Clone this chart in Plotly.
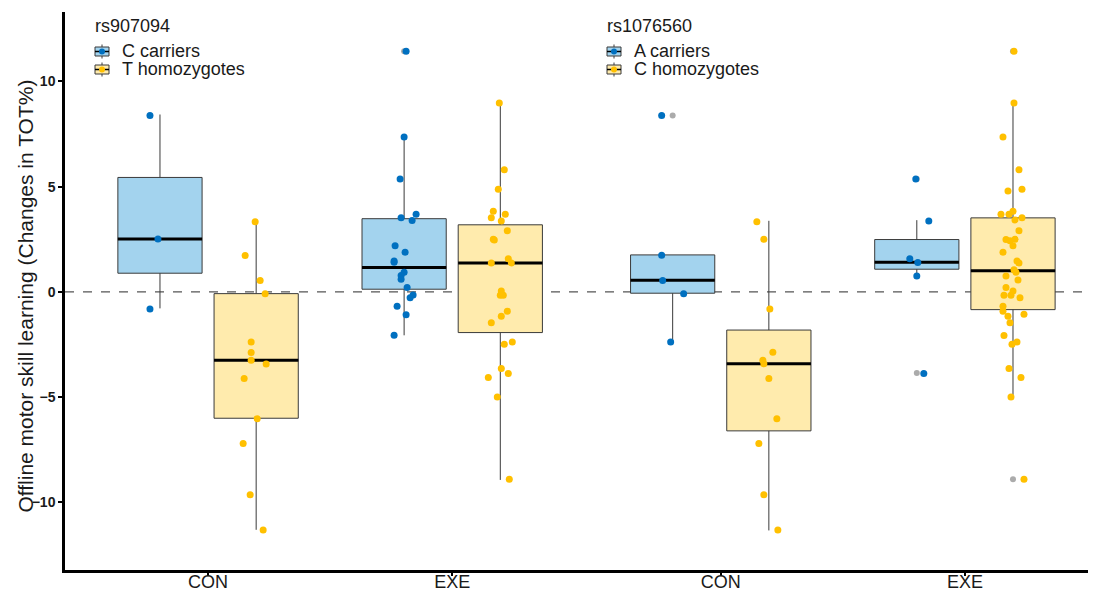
import plotly.graph_objects as go

# ---------------- data ----------------
categories = ["CON", "EXE", "CON", "EXE"]
snp_names = ["rs907094", "rs1076560"]
genotype_labels = [["C carriers", "T homozygotes"], ["A carriers", "C homozygotes"]]
y_title = "Offline motor skill learning (Changes in TOT%)"
y_ticks = [-10, -5, 0, 5, 10]

# group order: (category index, genotype index 0=carrier/blue, 1=homozygote/yellow)
group_cat = [0, 0, 1, 1, 2, 2, 3, 3]
group_geno = [0, 1, 0, 1, 0, 1, 0, 1]

box_lower = [-0.78, -11.30, -2.06, -8.93, -2.41, -11.33, 0.80, -4.89]
box_q1 = [0.89, -6.00, 0.13, -1.93, -0.06, -6.60, 1.08, -0.84]
box_median = [2.52, -3.25, 1.16, 1.38, 0.56, -3.41, 1.41, 1.01]
box_q3 = [5.44, -0.08, 3.48, 3.19, 1.76, -1.81, 2.49, 3.52]
box_upper = [8.43, 3.35, 7.35, 9.00, 1.76, 3.38, 3.41, 8.88]

outliers_con1_c = []
outliers_con1_t = []
outliers_exe1_c = [11.43]
outliers_exe1_t = []
outliers_con2_a = [8.38]
outliers_con2_c = []
outliers_exe2_a = [5.37, -3.85]
outliers_exe2_c = [11.43, -8.90]

vals_con1_c = [8.38, 2.51, -0.81]
vals_con1_t = [3.34, 1.73, 0.54, -0.08, -2.38, -2.88, -3.25, -3.42, -4.11, -6.02, -7.20, -9.63, -11.31]
vals_exe1_c = [11.43, 7.36, 5.37, 3.53, 3.69, 3.40, 2.19, 1.89, 1.47, 1.41, 0.94, 0.78, 0.60, 0.21,
               -0.14, -0.27, -0.68, -1.08, -2.06]
vals_exe1_t = [8.98, 5.80, 4.88, 3.83, 3.69, 3.53, 3.37, 2.91, 2.50, 2.47, 1.58, 1.38, 1.38, 0.05,
               -0.16, -0.16, -0.92, -1.16, -1.46, -2.49, -2.38, -3.64, -3.88, -4.07, -4.99, -8.90]
vals_con2_a = [8.38, 1.74, 0.54, -0.08, -2.38]
vals_con2_c = [3.34, 2.50, -0.81, -2.87, -3.25, -3.41, -4.11, -6.02, -7.20, -9.63, -11.31]
vals_exe2_a = [5.37, 3.37, 1.58, 1.40, 0.76, -3.88]
vals_exe2_c = [11.43, 8.98, 7.36, 5.80, 4.80, 4.88, 3.69, 3.69, 3.83, 3.42, 3.53, 2.91, 2.49, 2.43,
               2.50, 2.19, 1.89, 1.47, 1.38, 1.06, 0.94, 0.76, 0.57, 0.21, 0.05, -0.16, -0.16, -0.27,
               -0.68, -0.92, -1.06, -1.16, -1.46, -2.07, -2.38, -2.49, -3.64, -4.07, -4.99, -8.90]

# horizontal jitter (pixels)
jit_con1_c = [-10, -2, -10]
jit_con1_t = [-1, -11, 4, 9, -5, -5, -5, 10, -12, 1, -13, -6, 7]
jit_exe1_c = [2, 0, -4, -3, 12, 8, -9, 1, -10, -10, 0, -3, -3, 3, 9, 6, -7, 2, -10]
jit_exe1_t = [-1, 4, -2, -7, 5, -9, 1, 7, -7, -6, 8, -9, 11, 1, 0, 3, 7, 1, -9, 4, 12, 1, 8, -12, -3, 9]
jit_con2_a = [-11, -11, -10, 11, -2]
jit_con2_c = [-12, -5, 1, 4, -6, -5, 0, 8, -10, -5, 9]
jit_exe2_a = [-1, 12, -7, 1, 0, 7]
jit_exe2_c = [1, 1, -10, 6, -5, 9, -12, -4, 0, 2, 9, 6, -7, -3, 2, 0, -10, 4, 6, 1, 3, -7, 5, -7, 0,
              -9, -2, 7, -10, -10, 11, -5, -3, -9, 4, -1, -4, 8, -2, 11]

group_vals = [vals_con1_c, vals_con1_t, vals_exe1_c, vals_exe1_t, vals_con2_a, vals_con2_c, vals_exe2_a, vals_exe2_c]
group_jit = [jit_con1_c, jit_con1_t, jit_exe1_c, jit_exe1_t, jit_con2_a, jit_con2_c, jit_exe2_a, jit_exe2_c]
group_out = [outliers_con1_c, outliers_con1_t, outliers_exe1_c, outliers_exe1_t,
             outliers_con2_a, outliers_con2_c, outliers_exe2_a, outliers_exe2_c]

# ---------------- layout / style ----------------
OFF = 8  # default page body margin of the written html
W, H = 1096 - OFF, 592 - OFF
PLOT_L, PLOT_R, PLOT_T, PLOT_B = 65, 1096, 12, 570  # target plot box in window pixels
ML, MR, MT, MB = PLOT_L - OFF, OFF + W - PLOT_R, PLOT_T - OFF, OFF + H - PLOT_B
PW, PH = PLOT_R - PLOT_L, PLOT_B - PLOT_T
cat_pos = [1.0, 2.0, 3.1, 4.1]
x_range = [0.414, 4.637]
y_range = [-13.21, 13.3]
px_per_unit = PW / (x_range[1] - x_range[0])
dodge = 0.197
box_w = 0.345

fill_cols = ["#A3D3EE", "#FFEBAD"]
pt_cols = ["#0070C0", "#FFC000"]
out_col = "#ABABAB"
edge_col = "#3a3a3a"
txt_col = "#1a1a1a"
FONT = "Arial, 'Liberation Sans', sans-serif"


def px_x(px):
    return (px - PLOT_L) / PW


def px_y(py):
    return (PLOT_B - py) / PH


fig = go.Figure()

for g in range(8):
    c = group_cat[g]
    k = group_geno[g]
    snp_i = 0 if c < 2 else 1
    xc = cat_pos[c] + (-dodge if k == 0 else dodge)
    fig.add_trace(go.Box(
        x=[xc], q1=[box_q1[g]], median=[box_median[g]], q3=[box_q3[g]],
        lowerfence=[box_lower[g]], upperfence=[box_upper[g]],
        width=box_w, whiskerwidth=0, boxpoints=False,
        fillcolor=fill_cols[k], line=dict(color=edge_col, width=1),
        name=genotype_labels[snp_i][k], showlegend=False, hoverinfo="skip",
    ))
    # thick median line
    fig.add_trace(go.Scatter(
        x=[xc - box_w / 2, xc + box_w / 2], y=[box_median[g]] * 2, mode="lines",
        line=dict(color="black", width=3), showlegend=False, hoverinfo="skip",
    ))
    # outliers (boxplot layer)
    if group_out[g]:
        fig.add_trace(go.Scatter(
            x=[xc] * len(group_out[g]), y=group_out[g], mode="markers",
            marker=dict(color=out_col, size=6), showlegend=False, hoverinfo="skip",
        ))
    # jittered points
    fig.add_trace(go.Scatter(
        x=[xc + j / px_per_unit for j in group_jit[g]], y=group_vals[g], mode="markers",
        marker=dict(color=pt_cols[k], size=7), showlegend=False, hoverinfo="skip",
    ))

fig.add_shape(type="line", xref="paper", x0=0, x1=1, yref="y", y0=0, y1=0,
              line=dict(color="#555555", width=1.2, dash="dash"), layer="below")

# ---------------- ggplot-like legends (two SNP blocks) ----------------
legend_left_px = [94, 606]
title_cy, row_cy = 26, [51.5, 69.5]
for s in range(2):
    lx = legend_left_px[s]
    fig.add_annotation(xref="paper", yref="paper", x=px_x(lx - 1), y=px_y(title_cy),
                       text=snp_names[s], showarrow=False, xanchor="left", yanchor="middle",
                       font=dict(family=FONT, size=18, color=txt_col))
    for k in range(2):
        cy = row_cy[k]
        ix0, ix1 = lx + 1, lx + 15
        icx = (ix0 + ix1) / 2
        fig.add_shape(type="line", xref="paper", yref="paper",
                      x0=px_x(icx), x1=px_x(icx), y0=px_y(cy - 7), y1=px_y(cy + 7),
                      line=dict(color=edge_col, width=1))
        fig.add_shape(type="rect", xref="paper", yref="paper",
                      x0=px_x(ix0), x1=px_x(ix1), y0=px_y(cy - 4.5), y1=px_y(cy + 4.5),
                      fillcolor=fill_cols[k], line=dict(color=edge_col, width=1))
        fig.add_shape(type="line", xref="paper", yref="paper",
                      x0=px_x(ix0), x1=px_x(ix1), y0=px_y(cy), y1=px_y(cy),
                      line=dict(color="black", width=1.5))
        fig.add_shape(type="circle", xref="paper", yref="paper",
                      x0=px_x(icx - 3), x1=px_x(icx + 3), y0=px_y(cy - 3), y1=px_y(cy + 3),
                      fillcolor=pt_cols[k], line=dict(width=0))
        fig.add_annotation(xref="paper", yref="paper", x=px_x(lx + 26), y=px_y(cy),
                           text=genotype_labels[s][k], showarrow=False, xanchor="left",
                           yanchor="middle", font=dict(family=FONT, size=18, color=txt_col))

# y-axis title
fig.add_annotation(xref="paper", yref="paper", x=px_x(26), y=0.49, text=y_title,
                   textangle=-90, showarrow=False, xanchor="center", yanchor="middle",
                   font=dict(family=FONT, size=21, color=txt_col))

fig.update_layout(
    width=W, height=H,
    margin=dict(l=ML, r=MR, t=MT, b=MB, autoexpand=False),
    paper_bgcolor="white", plot_bgcolor="white",
    boxmode="overlay", showlegend=False,
    font=dict(family=FONT),
    xaxis=dict(
        range=x_range, tickvals=cat_pos, ticktext=categories, automargin=False,
        showline=True, linecolor="black", linewidth=2.5, ticks="outside",
        ticklen=3, tickwidth=1.5, tickcolor="black", showgrid=False, zeroline=False,
        tickfont=dict(family=FONT, size=18, color=txt_col), ticklabelstandoff=-9,
    ),
    yaxis=dict(
        range=y_range, tickvals=y_ticks, automargin=False,
        showline=True, linecolor="black", linewidth=2.5, ticks="outside",
        ticklen=4, tickwidth=1.5, tickcolor="black", showgrid=False, zeroline=False,
        tickfont=dict(family=FONT, size=14, color=txt_col, weight="bold"),
    ),
)

fig.write_html("out.html")
